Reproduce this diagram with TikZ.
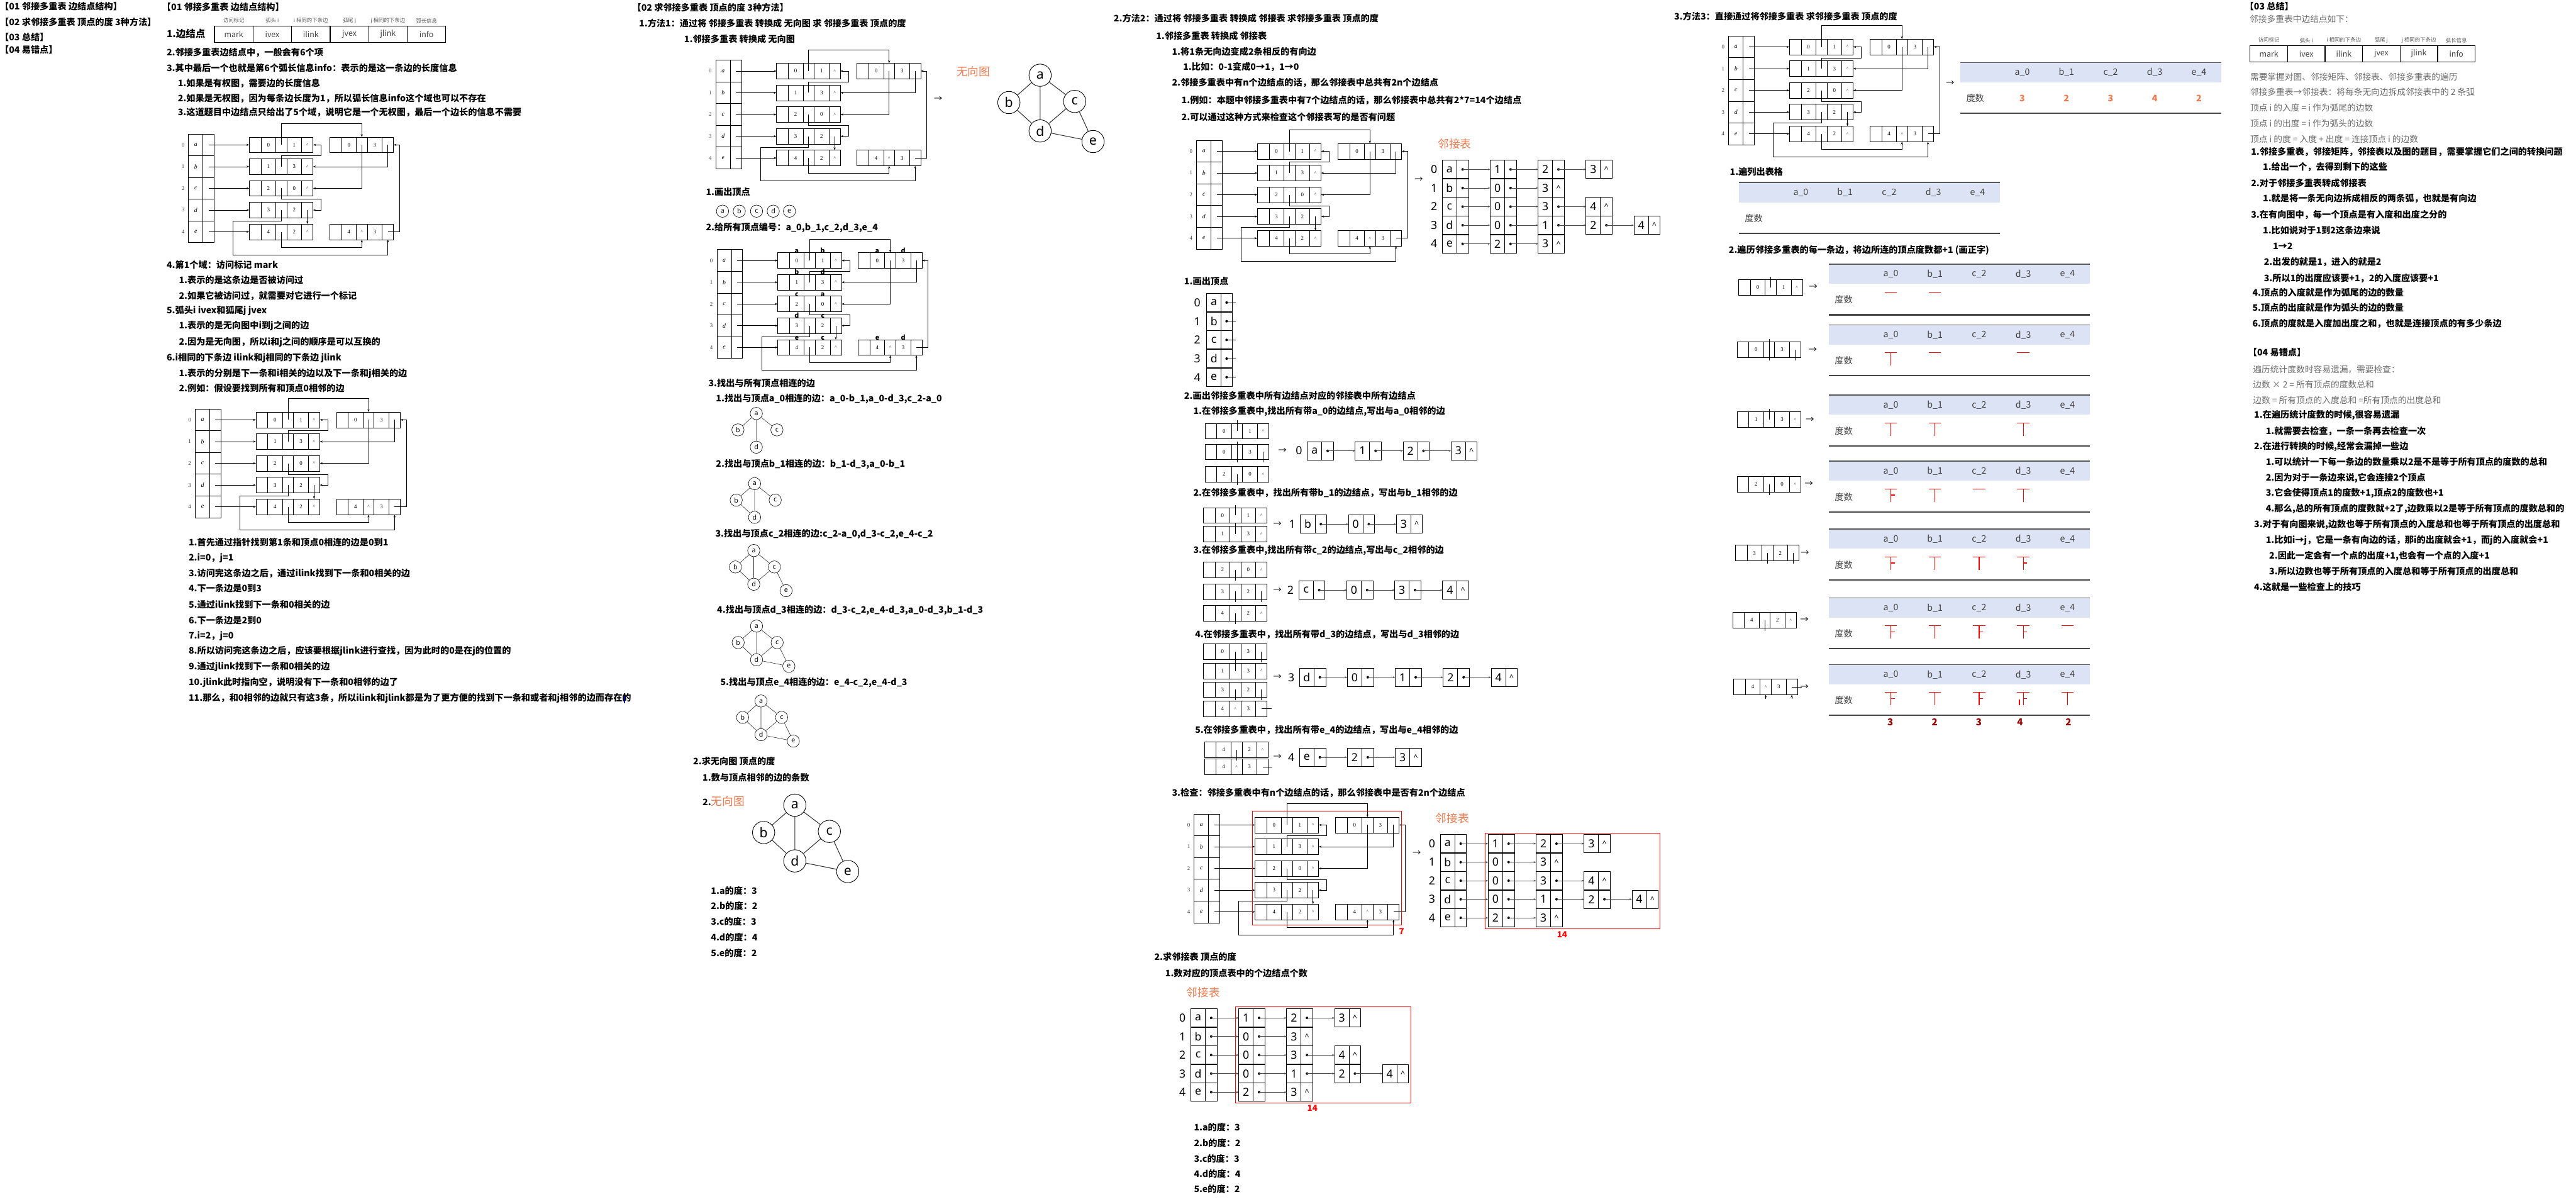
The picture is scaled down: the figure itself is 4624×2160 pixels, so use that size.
\documentclass[tikz,border=0pt]{standalone}
\usepackage{fontspec}
\setmainfont{Noto Sans CJK SC}
\newfontfamily\serf{Liberation Serif}
\newfontfamily\alf{Noto Sans}
\usetikzlibrary{arrows.meta}
\definecolor{org}{RGB}{236,122,78}
\definecolor{hdrb}{RGB}{220,227,244}
\definecolor{dred}{RGB}{150,0,0}
\newcounter{tn}
\tikzset{
 tb/.style={anchor=west,inner sep=0,font=\bfseries\fontsize{16}{18}\selectfont},
 tg/.style={anchor=west,inner sep=0,text=black!58,font=\fontsize{15.5}{18}\selectfont},
 tor/.style={anchor=west,inner sep=0,text=org,font=\fontsize{20}{22}\selectfont},
 ec/.style={draw,line width=0.8,minimum height=28,inner sep=0,outer sep=0,font=\serf\fontsize{10}{10}\selectfont},
 vc/.style={draw,line width=0.9,minimum height=39,inner sep=0,outer sep=0,font=\serf\itshape\fontsize{11}{11}\selectfont},
 mlidx/.style={inner sep=0,font=\serf\fontsize{10}{10}\selectfont,text=black!75},
 arr/.style={-{Stealth[length=5pt,width=3.6pt]},line width=0.7},
 alc/.style={draw,line width=1.1,minimum height=33,minimum width=26,inner sep=0,outer sep=0,font=\alf\fontsize{20}{20}\selectfont},
 alp/.style={draw,line width=1.1,minimum height=33,minimum width=21,inner sep=0,outer sep=0,font=\alf\bfseries\fontsize{14}{14}\selectfont},
 alidx/.style={inner sep=0,font=\alf\fontsize{20}{20}\selectfont},
 alarr/.style={-{Stealth[length=4.5pt,width=3.2pt]},line width=0.7,black!70},
 lab/.style={inner sep=0,anchor=south,font=\bfseries\fontsize{12}{12}\selectfont},
 gvb/.style={circle,draw,line width=1,minimum size=40,inner sep=0,font=\alf\fontsize{24}{24}\selectfont},
 gvs/.style={circle,draw,line width=0.7,minimum size=22,inner sep=0,font=\alf\fontsize{12}{12}\selectfont},
 ge/.style={line width=1.2,black!80},
 ges/.style={line width=0.7,black!80},
 rbox/.style={draw=red,line width=0.8},
 rnum/.style={inner sep=0,text=red,font=\bfseries\fontsize{15}{15}\selectfont},
 tal/.style={red,line width=1.3},
 stub/.style={line width=0.7},
 hc/.style={draw,line width=1.4,minimum height=29,inner sep=0,outer sep=0,text=black!75,font=\fontsize{14}{14}\selectfont},
 hl/.style={inner sep=0,text=black!65,font=\fontsize{9.5}{10}\selectfont},
 arrt/.style={inner sep=0,font=\fontsize{15}{15}\selectfont},
 dth/.style={inner sep=0,text=black!75,font=\fontsize{16}{16}\selectfont},
 dval/.style={inner sep=0,text=org,font=\bfseries\fontsize{16}{16}\selectfont},
 fval/.style={inner sep=0,text=dred,font=\bfseries\fontsize{17}{17}\selectfont},
}
\newcommand\T[3][tb]{\stepcounter{tn}\node[#1] (t\thetn) at (#2) {#3};}
\newcommand\mynull{\fontsize{8}{8}\selectfont\textasciicircum}
% edge node of the multilist
\newcommand\enode[7]{%
 \node[ec,minimum width=21,anchor=west] (#1m) at (#2,#3) {};
 \node[ec,minimum width=26.5,anchor=west] (#1iv) at (#1m.east) {#4};
 \node[ec,minimum width=20,anchor=west] (#1il) at (#1iv.east) {#5};
 \node[ec,minimum width=26.5,anchor=west] (#1jv) at (#1il.east) {#6};
 \node[ec,minimum width=20.5,anchor=west] (#1jl) at (#1jv.east) {#7};}
\newcommand\su[1]{\draw[stub] (#1.center) -- ++(0,-19);}
\newcommand\sd[1]{\draw[stub] (#1.center) -- ++(0,19);}
\newcommand\sr[1]{\draw[stub] (#1.center) -- ++(18,0);}
% whole multilist
\newcommand\mlist[3]{%
\begin{scope}[shift={(#2,#3)}]
\foreach \myr/\myl in {0/a,1/b,2/c,3/d,4/e}{%
 \node[vc,minimum width=26,anchor=north west] (#1d\myr) at (0,39*\myr) {\myl};
 \node[vc,minimum width=20,anchor=north west] (#1p\myr) at (26,39*\myr) {};
 \node[mlidx] (#1i\myr) at (-10,19.5+39*\myr) {\myr};}
\enode{#1A}{109}{19.5}{0}{}{1}{\mynull}
\enode{#1B}{109}{58.5}{1}{}{3}{\mynull}
\enode{#1C}{109}{97.5}{2}{}{0}{\mynull}
\enode{#1D}{109}{136.5}{3}{}{2}{}
\enode{#1E}{109}{175.5}{4}{}{2}{\mynull}
\enode{#1F}{253.5}{19.5}{0}{}{3}{}
\enode{#1G}{253.5}{175.5}{4}{\mynull}{3}{}
\coordinate (#1top) at (0,-19);
\coordinate (#1qa) at (238,39);
\coordinate (#1qb) at (238,117);
\coordinate (#1qc) at (80,156);
\coordinate (#1qd) at (80,216.6);
\coordinate (#1yb) at (0,203);
\coordinate (#1xr) at (378.6,0);
\foreach \myr/\myn in {0/A,1/B,2/C,3/D,4/E}{\draw[arr] (#1p\myr.center) -- (#1\myn m.west);}
\draw[arr] (#1Ail.center) -- (#1Ail.center |- #1top) -| (#1Fil.north);
\draw[arr] (#1Bil.center) |- (#1qa) |- (#1Ajl.east);
\draw[arr] (#1Fil.center) |- (#1Cjl.east);
\draw[arr] (#1Fjl.center) |- (#1Bjl.east);
\draw[arr] (#1Cil.center) |- (#1qb) |- (#1Djl.east);
\draw[arr] (#1Djl.center) -- (#1Ejl.north);
\draw[arr] (#1Dil.center) |- (#1qc) -- (#1qd) -| (#1Gjl.south);
\draw[arr] (#1Eil.center) -- (#1Eil.center |- #1yb) -| (#1Gil.south);
\draw[arr] (#1Gjl.center) -- (#1Gjl.center -| #1xr) |- (#1Fjl.east);
\end{scope}}
\newcommand\mlabels[1]{%
 \foreach \myn/\myi/\myj in {A/a/b,B/b/d,C/c/a,D/d/c,E/e/c,F/a/d,G/e/d}{%
 \node[lab] (#1\myn li) at ([yshift=-1pt]#1\myn iv.north) {\myi};
 \node[lab] (#1\myn lj) at ([yshift=-1pt]#1\myn jv.north) {\myj};}}
% adjacency list row
\newcommand\alrow[6]{%
 \node[alidx] (#1i) at (#2-15,#3) {#4};
 \node[alc,anchor=west] (#1d0) at (#2,#3) {#5};
 \node[alp,anchor=west] (#1p0) at (#1d0.east) {};
 \fill (#1p0.center) circle (2.3);
 \foreach \mydv/\mypv [count=\myk] in {#6}{%
  \pgfmathtruncatemacro\mykm{\myk-1}
  \node[alc,anchor=west] (#1d\myk) at ({#2+86*\myk},#3) {\mydv};
  \node[alp,anchor=west] (#1p\myk) at (#1d\myk.east) {\ifnum\mypv=1 \else\textasciicircum\fi};
  \ifnum\mypv=1 \fill (#1p\myk.center) circle (2.3);\fi
  \draw[alarr] (#1p\mykm.center) -- (#1d\myk.west);}}
\newcommand\alvert[3]{%
 \foreach \myr/\myl in {0/a,1/b,2/c,3/d,4/e}{%
 \node[alidx] (#1i\myr) at (#2-17,#3+33.5*\myr) {\myr};
 \node[alc,anchor=west] (#1d\myr) at (#2,#3+33.5*\myr) {\myl};
 \node[alp,minimum width=19.5,anchor=west] (#1p\myr) at (#1d\myr.east) {};
 \fill (#1p\myr.center) circle (2.3);
 \draw[line width=0.8] (#1p\myr.center) -- ++(17,0);}}
% header table
\newcommand\hdrtab[4]{%
 \foreach \myt/\myl [count=\myk from 0] in {mark/访问标记,ivex/弧头 i,ilink/i 相同的下条边,jvex/弧尾 j,jlink/j 相同的下条边,info/弧长信息}{%
 \node[hc,minimum width=#4,anchor=north west] (#1c\myk) at ({#2+#4*\myk},#3) {\myt};
 \node[hl] (#1l\myk) at ({#2+#4*\myk+#4/2},#3-10) {\myl};}}
% graphs
\newcommand\gbig[3]{%
\begin{scope}[shift={(#2,#3)}]
 \node[gvb] (#1a) at (0,0) {a};
 \node[gvb] (#1b) at (-56,49) {b};
 \node[gvb] (#1c) at (62,47) {c};
 \node[gvb] (#1d) at (0,100) {d};
 \node[gvb] (#1e) at (95,119) {e};
 \draw[ge] (#1a)--(#1b) (#1a)--(#1c) (#1a)--(#1d) (#1b)--(#1d) (#1c)--(#1d) (#1c)--(#1e) (#1d)--(#1e);
\end{scope}}
\newcommand\gsmall[4]{%
\begin{scope}[shift={(#2,#3)}]
 \node[gvs] (#1a) at (0,0) {a};
 \node[gvs] (#1b) at (-33,29.5) {b};
 \node[gvs] (#1c) at (37,29.5) {c};
 \node[gvs] (#1d) at (0,60.5) {d};
 \draw[ges] (#1a)--(#1b) (#1a)--(#1c) (#1a)--(#1d);
 \ifnum#4>1 \draw[ges] (#1b)--(#1d);\fi
 \ifnum#4>2 \node[gvs] (#1e) at (58,72) {e}; \draw[ges] (#1c)--(#1d) (#1c)--(#1e);\fi
 \ifnum#4>3 \draw[ges] (#1d)--(#1e);\fi
\end{scope}}
% degree table
\newcommand\dtab[3]{%
\begin{scope}[shift={(#2,#3)}]
 \fill[hdrb] (0,0) rectangle (469,35.5);
 \draw[line width=1.6,black!65] (0,0) -- (469,0);
 \draw[line width=2.4,black!72] (0,91) -- (469,91);
 \foreach \myl [count=\myk from 0] in {a\_0,b\_1,c\_2,d\_3,e\_4}{\node[dth] (#1h\myk) at (111.5+79.3*\myk,18) {\myl};}
 \node[dth] (#1r) at (27,64) {度数};
\end{scope}}
\newcommand\tally[3]{%
 \ifnum#3>0 \draw[tal] (#1-11,#2+50) -- (#1+11,#2+50);\fi
 \ifnum#3>1 \draw[tal] (#1,#2+50) -- (#1,#2+73);\fi
 \ifnum#3>2 \draw[tal] (#1,#2+61) -- (#1+7,#2+61);\fi
 \ifnum#3>3 \draw[tal] (#1-7,#2+63) -- (#1-7,#2+73);\fi
 \ifnum#3>4 \draw[tal] (#1-11,#2+73) -- (#1+11,#2+73);\fi}
\newcommand\tallyrow[7]{\tally{#1+111.5}{#2}{#3}\tally{#1+190.8}{#2}{#4}\tally{#1+270.1}{#2}{#5}\tally{#1+349.4}{#2}{#6}\tally{#1+428.7}{#2}{#7}}

\begin{document}
\begin{tikzpicture}[x=1pt,y=-1pt]
\fill[white] (0,0) rectangle (4624,2160);
\useasboundingbox (0,0) rectangle (4624,2160);

% ---------- left index ----------
\T{0,11}{【01 邻接多重表 边结点结构】}
\T{0,40}{【02 求邻接多重表 顶点的度 3种方法】}
\T{0,67}{【03 总结】}
\T{0,89}{【04 易错点】}

% ---------- column 1 ----------
\T{291,12.4}{【01 邻接多重表 边结点结构】}
\node[tb,font=\bfseries\fontsize{17.5}{18}\selectfont] (c1e) at (299,60.5) {1.边结点};
\hdrtab{HA}{385}{47}{69.2}
\T{299,94}{2.邻接多重表边结点中，一般会有6个项}
\T{299,122}{3.其中最后一个也就是第6个弧长信息info：表示的是这一条边的长度信息}
\T{319,150}{1.如果是有权图，需要边的长度信息}
\T{319,177}{2.如果是无权图，因为每条边长度为1，所以弧长信息info这个域也可以不存在}
\T{319,201.5}{3.这道题目中边结点只给出了5个域，说明它是一个无权图，最后一个边长的信息不需要}
\mlist{MA}{338.5}{240.5}
\T{299,475}{4.第1个域：访问标记 mark}
\T{321,503}{1.表示的是这条边是否被访问过}
\T{321,531.5}{2.如果它被访问过，就需要对它进行一个标记}
\T{299,558}{5.弧头i ivex和狐尾j jvex}
\T{321,585}{1.表示的是无向图中i到j之间的边}
\T{321,614}{2.因为是无向图，所以i和j之间的顺序是可以互换的}
\T{299,642}{6.i相同的下条边 ilink和j相同的下条边 jlink}
\T{321,670}{1.表示的分别是下一条和i相关的边以及下一条和j相关的边}
\T{321,697}{2.例如：假设要找到所有和顶点0相邻的边}
\mlist{MB}{350.5}{734}
\T{338.5,973}{1.首先通过指针找到第1条和顶点0相连的边是0到1}
\T{338.5,1001}{2.i=0，j=1}
\T{338.5,1029}{3.访问完这条边之后，通过ilink找到下一条和0相关的边}
\T{338.5,1056}{4.下一条边是0到3}
\T{338.5,1085}{5.通过ilink找到下一条和0相关的边}
\T{338.5,1113}{6.下一条边是2到0}
\T{338.5,1141}{7.i=2，j=0}
\T{338.5,1168}{8.所以访问完这条边之后，应该要根据jlink进行查找，因为此时的0是在j的位置的}
\T{338.5,1197}{9.通过jlink找到下一条和0相关的边}
\T{338.5,1225}{10.jlink此时指向空，说明没有下一条和0相邻的边了}
\T{338.5,1253}{11.那么，和0相邻的边就只有这3条，所以ilink和jlink都是为了更方便的找到下一条和或者和j相邻的边而存在的}

% ---------- column 2 ----------
\T{1135,14}{【02 求邻接多重表 顶点的度 3种方法】}
\T{1147,41.5}{1.方法1：通过将 邻接多重表 转换成 无向图 求 邻接多重表 顶点的度}
\T{1228,70}{1.邻接多重表 转换成 无向图}
\mlist{MC}{1285}{108}
\node[arrt] (c2ar) at (1684,178) {→};
\T[tor]{1717,128.5}{无向图}
\gbig{GA}{1867}{135}
\T{1267,345}{1.画出顶点}
\foreach \myx/\myl in {1297/a,1327/b,1358/c,1388/d,1417/e}{\node[gvs] (pv\myl) at (\myx,379) {\myl};}
\T{1267,409}{2.给所有顶点编号：a\_0,b\_1,c\_2,d\_3,e\_4}
\mlist{MD}{1287}{448}
\mlabels{MD}
\T{1271.5,688}{3.找出与所有顶点相连的边}
\T{1285,715.6}{1.找出与顶点a\_0相连的边：a\_0-b\_1,a\_0-d\_3,c\_2-a\_0}
\gsmall{SA}{1357.6}{742}{1}
\T{1285,833}{2.找出与顶点b\_1相连的边：b\_1-d\_3,a\_0-b\_1}
\gsmall{SB}{1354.5}{868}{2}
\T{1284,959}{3.找出与顶点c\_2相连的边:c\_2-a\_0,d\_3-c\_2,e\_4-c\_2}
\gsmall{SC}{1353}{988}{3}
\T{1287,1094.5}{4.找出与顶点d\_3相连的边：d\_3-c\_2,e\_4-d\_3,a\_0-d\_3,b\_1-d\_3}
\gsmall{SD}{1358}{1123.6}{4}
\T{1293,1224.7}{5.找出与顶点e\_4相连的边：e\_4-c\_2,e\_4-d\_3}
\gsmall{SE}{1366}{1258}{4}
\draw[blue!60!black,line width=2] (1121,1248) -- (1121,1262);
\T{1244,1366}{2.求无向图 顶点的度}
\T{1261,1396}{1.数与顶点相邻的边的条数}
\T{1261,1437.6}{2.{\mdseries\color{org}\fontsize{20}{22}\selectfont 无向图}}
\gbig{GB}{1426.7}{1445}
\T{1276,1598}{1.a的度：3}
\T{1276,1626}{2.b的度：2}
\T{1276,1654}{3.c的度：3}
\T{1276,1682}{4.d的度：4}
\T{1276,1710}{5.e的度：2}

% ---------- column 3 ----------
\T{1999,33}{2.方法2：通过将 邻接多重表 转换成 邻接表 求邻接多重表 顶点的度}
\T{2075,64}{1.邻接多重表 转换成 邻接表}
\T{2103.6,92.5}{1.将1条无向边变成2条相反的有向边}
\T{2123.6,120}{1.比如：0-1变成0→1，1→0}
\T{2103.6,148}{2.邻接多重表中有n个边结点的话，那么邻接表中总共有2n个边结点}
\T{2120.6,180.5}{1.例如：本题中邻接多重表中有7个边结点的话，那么邻接表中总共有2*7=14个边结点}
\T{2120.6,210}{2.可以通过这种方式来检查这个邻接表写的是否有问题}
\mlist{ME}{2148}{252}
\node[arrt] (c3ar1) at (2546.7,322) {→};
\T[tor]{2581,258}{邻接表}
\alrow{LAa}{2589}{304}{0}{a}{1/1,2/1,3/0}
\alrow{LAb}{2589}{337.4}{1}{b}{0/1,3/0}
\alrow{LAc}{2589}{370.8}{2}{c}{0/1,3/1,4/0}
\alrow{LAd}{2589}{404.2}{3}{d}{0/1,1/1,2/1,4/0}
\alrow{LAe}{2589}{437.6}{4}{e}{2/1,3/0}
\T{2125.5,505}{1.画出顶点}
\alvert{VX}{2166}{543}
\T{2125.5,710}{2.画出邻接多重表中所有边结点对应的邻接表中所有边结点}
% step 1
\T{2142,738}{1.在邻接多重表中,找出所有带a\_0的边结点,写出与a\_0相邻的边}
\enode{sAa}{2163}{773.6}{0}{}{1}{\mynull}\su{sAail}
\enode{sAb}{2163}{811}{0}{}{3}{}\sd{sAbil}\sd{sAbjl}\su{sAbil}
\enode{sAc}{2163}{851}{2}{}{0}{\mynull}\sd{sAcil}
\node[arrt] (sAar) at (2302,809) {→};
\alrow{sAl}{2346.7}{809}{0}{a}{1/1,2/1,3/0}
% step 2
\T{2142,884.6}{2.在邻接多重表中，找出所有带b\_1的边结点，写出与b\_1相邻的边}
\enode{sBa}{2160}{925}{0}{}{1}{\mynull}\su{sBail}
\enode{sBb}{2160}{958.5}{1}{}{3}{\mynull}\su{sBbil}
\node[arrt] (sBar) at (2293,940.7) {→};
\alrow{sBl}{2334.5}{940.7}{1}{b}{0/1,3/0}
% step 3
\T{2142,988}{3.在邻接多重表中,找出所有带c\_2的边结点,写出与c\_2相邻的边}
\enode{sCa}{2160}{1022.7}{2}{}{0}{\mynull}\sd{sCail}
\enode{sCb}{2160}{1061.7}{3}{}{2}{}\sd{sCbil}\sd{sCbjl}
\enode{sCc}{2160}{1100.7}{4}{}{2}{\mynull}\sd{sCcil}
\node[arrt] (sCar) at (2293,1059) {→};
\alrow{sCl}{2331.5}{1059}{2}{c}{0/1,3/1,4/0}
% step 4
\T{2145,1138}{4.在邻接多重表中，找出所有带d\_3的边结点，写出与d\_3相邻的边}
\enode{sDa}{2160}{1169.6}{0}{}{3}{}\sd{sDail}\sd{sDajl}
\enode{sDb}{2160}{1204}{1}{}{3}{\mynull}\su{sDbil}
\enode{sDc}{2160}{1237.7}{3}{}{2}{}\sd{sDcil}\sd{sDcjl}
\enode{sDd}{2160}{1272}{4}{\mynull}{3}{}\sr{sDdjl}
\node[arrt] (sDar) at (2293,1215.5) {→};
\alrow{sDl}{2332.7}{1215.5}{3}{d}{0/1,1/1,2/1,4/0}
% step 5
\T{2145,1310}{5.在邻接多重表中，找出所有带e\_4的边结点，写出与e\_4相邻的边}
\enode{sEa}{2162}{1345.6}{4}{}{2}{\mynull}\sd{sEail}
\enode{sEb}{2162}{1376}{4}{\mynull}{3}{}\sr{sEbjl}
\node[arrt] (sEar) at (2293,1359) {→};
\alrow{sEl}{2332.7}{1359}{4}{e}{2/1,3/0}
% check
\T{2103.6,1422.8}{3.检查：邻接多重表中有n个边结点的话，那么邻接表中是否有2n个边结点}
\mlist{MF}{2143.6}{1461}
\draw[rbox] (2248,1455) rectangle (2516,1660);
\node[rnum] (n7) at (2516,1672) {7};
\node[arrt] (c3ar2) at (2543,1531.5) {→};
\T[tor]{2577,1468.7}{邻接表}
\alrow{LBa}{2585.5}{1514}{0}{a}{1/1,2/1,3/0}
\alrow{LBb}{2585.5}{1547.3}{1}{b}{0/1,3/0}
\alrow{LBc}{2585.5}{1580.6}{2}{c}{0/1,3/1,4/0}
\alrow{LBd}{2585.5}{1613.9}{3}{d}{0/1,1/1,2/1,4/0}
\alrow{LBe}{2585.5}{1647.2}{4}{e}{2/1,3/0}
\draw[rbox] (2666,1494.8) rectangle (2980,1667);
\node[rnum] (n14a) at (2804,1677) {14};
\T{2072,1717}{2.求邻接表 顶点的度}
\T{2091.5,1747}{1.数对应的顶点表中的个边结点个数}
\T[tor]{2130,1781.7}{邻接表}
\alrow{LCa}{2137.6}{1826.8}{0}{a}{1/1,2/1,3/0}
\alrow{LCb}{2137.6}{1860.1}{1}{b}{0/1,3/0}
\alrow{LCc}{2137.6}{1893.4}{2}{c}{0/1,3/1,4/0}
\alrow{LCd}{2137.6}{1926.7}{3}{d}{0/1,1/1,2/1,4/0}
\alrow{LCe}{2137.6}{1960}{4}{e}{2/1,3/0}
\draw[rbox] (2217.6,1807) rectangle (2533,1979);
\node[rnum] (n14b) at (2355.8,1989) {14};
\T{2143,2023}{1.a的度：3}
\T{2143,2051}{2.b的度：2}
\T{2143,2079}{3.c的度：3}
\T{2143,2107}{4.d的度：4}
\T{2143,2134}{5.e的度：2}

% ---------- column 4 ----------
\T{3005,29}{3.方法3：直接通过将邻接多重表 求邻接多重表 顶点的度}
\mlist{MG}{3103}{64.7}
\node[arrt] (c4ar) at (3500.6,149) {→};
\dtab{T0}{3518.5}{112}
\foreach \myv [count=\myk from 0] in {3,2,3,4,2}{\node[dval] (T0v\myk) at (3630+79.3*\myk,176) {\myv};}
\T{3105,308.5}{1.遍列出表格}
\dtab{T1}{3121}{327.5}
\T{3103,449}{2.遍历邻接多重表的每一条边，将边所连的顶点度数都+1 (画正字)}
% rows
\enode{rA}{3121}{515.8}{0}{}{1}{\mynull}\su{rAil}
\node[arrt] (rAar) at (3255,515.8) {→}; \dtab{TA}{3282.5}{474} \tallyrow{3282.5}{474}{1}{1}{0}{0}{0}
\enode{rB}{3118}{627.7}{0}{}{3}{}\su{rBil}\sd{rBil}\sd{rBjl}
\node[arrt] (rBar) at (3254,627.7) {→}; \dtab{TB}{3282.5}{583} \tallyrow{3282.5}{583}{2}{1}{0}{1}{0}
\enode{rC}{3118}{753}{1}{}{3}{\mynull}\su{rCil}
\node[arrt] (rCar) at (3249,753) {→}; \dtab{TC}{3282.5}{709} \tallyrow{3282.5}{709}{2}{2}{0}{2}{0}
\enode{rD}{3118}{869}{2}{}{0}{\mynull}\sd{rDil}
\node[arrt] (rDar) at (3247,869) {→}; \dtab{TD}{3282.5}{827.5} \tallyrow{3282.5}{827.5}{3}{2}{1}{2}{0}
\enode{rE}{3115}{992.5}{3}{}{2}{}\sd{rEil}\sd{rEjl}
\node[arrt] (rEar) at (3240,992.5) {→}; \dtab{TE}{3282.5}{949.4} \tallyrow{3282.5}{949.4}{3}{2}{2}{3}{0}
\enode{rF}{3110}{1113}{4}{}{2}{\mynull}\sd{rFil}
\node[arrt] (rFar) at (3239,1113) {→}; \dtab{TF}{3282.5}{1073} \tallyrow{3282.5}{1073}{3}{2}{3}{3}{1}
\enode{rG}{3112}{1232.8}{4}{\mynull}{3}{}\sr{rGjl}
\draw[arr] ([yshift=-7pt]rGil.south) -- (rGil.south);
\draw[arr] ([yshift=-7pt]rGjl.south) -- (rGjl.south);
\node[arrt] (rGar) at (3239,1232.8) {→}; \dtab{TG}{3282.5}{1192.6} \tallyrow{3282.5}{1192.6}{3}{2}{3}{4}{2}
\foreach \myx/\myv in {3393/3,3472.6/2,3552/3,3626/4,3713/2}{\node[fval] (fv\myx) at (\myx,1296) {\myv};}

% ---------- column 5 ----------
\T{4029.6,11.5}{【03 总结】}
\T[tg]{4038,34.4}{邻接多重表中边结点如下：}
\hdrtab{HB}{4039}{82}{67.3}
\T[tg]{4039,137.7}{需要掌握对图、邻接矩阵、邻接表、邻接多重表的遍历}
\T[tg]{4039,165}{邻接多重表→邻接表：将每条无向边拆成邻接表中的 2 条弧}
\T[tg]{4039,193.6}{顶点 i 的入度 = i 作为弧尾的边数}
\T[tg]{4039,222}{顶点 i 的出度 = i 作为弧头的边数}
\T[tg]{4039,249.4}{顶点 i 的度 = 入度 + 出度 = 连接顶点 i 的边数}
\T{4040.5,273}{1.邻接多重表，邻接矩阵，邻接表以及图的题目，需要掌握它们之间的转换问题}
\T{4061.7,300}{1.给出一个，去得到剩下的这些}
\T{4040.5,329}{2.对于邻接多重表转成邻接表}
\T{4061.7,356.5}{1.就是将一条无向边拆成相反的两条弧，也就是有向边}
\T{4040.5,385}{3.在有向图中，每一个顶点是有入度和出度之分的}
\T{4061.7,413}{1.比如说对于1到2这条边来说}
\T{4079.7,442}{1→2}
\T{4063.6,470.5}{2.出发的就是1，进入的就是2}
\T{4063.6,499}{3.所以1的出度应该要+1，2的入度应该要+1}
\T{4043,525}{4.顶点的入度就是作为弧尾的边的数量}
\T{4043,552}{5.顶点的出度就是作为弧头的边的数量}
\T{4043,580.7}{6.顶点的度就是入度加出度之和，也就是连接顶点的有多少条边}
\T{4035.5,632.7}{【04 易错点】}
\T[tg]{4044,662.6}{遍历统计度数时容易遗漏，需要检查：}
\T[tg]{4044,690}{边数 × 2 = 所有顶点的度数总和}
\T[tg]{4044,718.4}{边数 = 所有顶点的入度总和 =所有顶点的出度总和}
\T{4046,745}{1.在遍历统计度数的时候,很容易遗漏}
\T{4067,773.5}{1.就需要去检查，一条一条再去检查一次}
\T{4046,801}{2.在进行转换的时候,经常会漏掉一些边}
\T{4067,829}{1.可以统计一下每一条边的数量乘以2是不是等于所有顶点的度数的总和}
\T{4067,857.7}{2.因为对于一条边来说,它会连接2个顶点}
\T{4067,885}{3.它会使得顶点1的度数+1,顶点2的度数也+1}
\T{4067,913.5}{4.那么,总的所有顶点的度数就+2了,边数乘以2是等于所有顶点的度数总和的}
\T{4046,941}{3.对于有向图来说,边数也等于所有顶点的入度总和也等于所有顶点的出度总和}
\T{4067,969.4}{1.比如i→j，它是一条有向边的话，那i的出度就会+1，而j的入度就会+1}
\T{4073,997.7}{2.因此一定会有一个点的出度+1,也会有一个点的入度+1}
\T{4073,1025}{3.所以边数也等于所有顶点的入度总和等于所有顶点的出度总和}
\T{4046,1053.6}{4.这就是一些检查上的技巧}
\end{tikzpicture}
\end{document}
